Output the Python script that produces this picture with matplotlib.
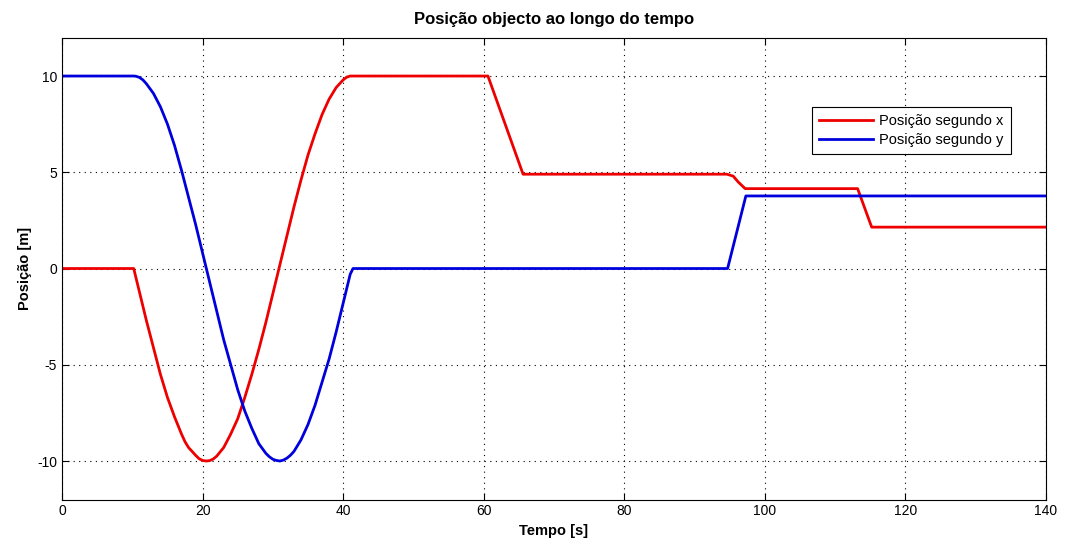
import numpy as np
import matplotlib
matplotlib.use('Agg')
import matplotlib.pyplot as plt

############################################################
# Data

t_x = [0, 10.2, 11, 12, 13, 14, 15, 16, 17, 17.5, 18, 18.5, 19, 19.5, 20,
       20.5, 21, 21.5, 22, 23, 24, 25, 26, 27, 28, 29, 30, 31, 32, 33, 34,
       35, 36, 37, 38, 39, 40, 40.5, 41, 41.3,
       60.6, 65.6, 94.6, 95.5, 96.2, 97.2, 113.2, 115.2, 140]
pos_x = [0, 0, -1.2, -2.7, -4.1, -5.5, -6.7, -7.7, -8.6, -9.0, -9.3, -9.5,
         -9.7, -9.88, -9.97, -10.0, -9.98, -9.9, -9.75, -9.3, -8.6, -7.8, -6.7,
         -5.5, -4.2, -2.8, -1.3, 0.2, 1.7, 3.2, 4.6, 5.9, 7.0, 8.0, 8.8, 9.4,
         9.8, 9.94, 10.0, 10.0,
         10.0, 4.9, 4.9, 4.8, 4.5, 4.15, 4.15, 2.15, 2.15]

t_y = [0, 10.2, 10.5, 11, 11.5, 12, 13, 14, 15, 16, 17, 18, 19, 20, 21, 22,
       23, 24, 25, 26, 27, 28, 29, 29.5, 30, 30.5, 31, 31.5, 32, 32.5, 33,
       34, 35, 36, 37, 38, 39, 40, 41, 41.4,
       94.7, 97.3, 140]
pos_y = [10, 10, 9.99, 9.93, 9.8, 9.6, 9.1, 8.4, 7.5, 6.4, 5.1, 3.7, 2.3, 0.8,
         -0.7, -2.2, -3.7, -5.0, -6.3, -7.4, -8.3, -9.1, -9.6, -9.78, -9.91,
         -9.97, -10.0, -9.95, -9.85, -9.7, -9.5, -8.9, -8.1, -7.1, -5.9, -4.7,
         -3.3, -1.8, -0.3, 0,
         0, 3.77, 3.77]

############################################################
# Plotting

plt.rcParams['font.family'] = ['Liberation Sans', 'DejaVu Sans']
plt.rcParams['axes.unicode_minus'] = False

fig = plt.figure(figsize=(10.66, 5.47), dpi=100)
ax = fig.add_axes([0.0582, 0.0868, 0.923, 0.8446])

ax.plot(t_x, pos_x, color='#ee0000', lw=2, label='Posição segundo x')
ax.plot(t_y, pos_y, color='#0000dd', lw=2, label='Posição segundo y')

ax.set_xlim(0, 140)
ax.set_ylim(-12, 12)
ax.set_xticks(np.arange(0, 141, 20))
ax.set_yticks([-10, -5, 0, 5, 10])
ax.tick_params(direction='in', top=True, right=True, labelsize=10, length=5)
ax.grid(True, color='black', linestyle=(0, (1, 4)), linewidth=0.8)

ax.set_title('Posição objecto ao longo do tempo', fontsize=12, fontweight='bold', pad=10)
ax.set_xlabel('Tempo [s]', fontsize=10.5, fontweight='bold')
ax.set_ylabel('Posição [m]', fontsize=10.5, fontweight='bold')

leg = ax.legend(loc='upper right', bbox_to_anchor=(0.9715, 0.865), fancybox=False,
                framealpha=1, edgecolor='black', fontsize=10.5, handlelength=3.7,
                borderpad=0.5, labelspacing=0.3, handletextpad=0.4)
leg.get_frame().set_linewidth(0.8)

fig.savefig('out.png', dpi=100)
